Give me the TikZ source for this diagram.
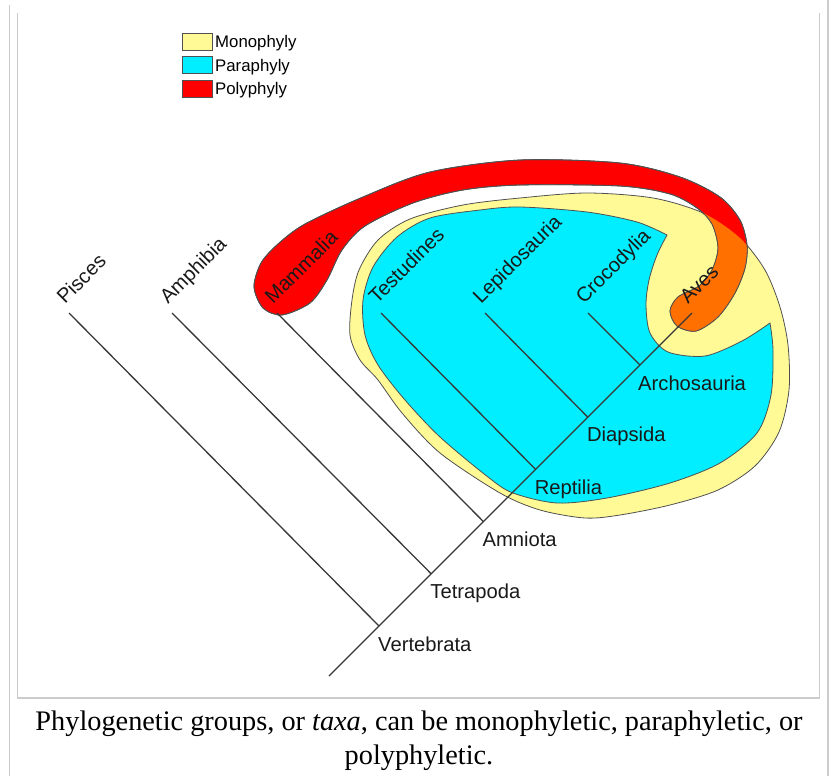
\documentclass[tikz,border=0pt]{standalone}
\usepackage{fontspec}
\setmainfont{Liberation Sans}
\newfontfamily\capfont{Liberation Serif}
\definecolor{mono}{RGB}{255,250,150}
\definecolor{para}{RGB}{0,238,255}
\definecolor{poly}{RGB}{255,0,0}
\definecolor{overlap}{RGB}{255,112,0}
\definecolor{treec}{RGB}{55,55,55}
\definecolor{framec}{RGB}{204,204,204}
\definecolor{edgec}{RGB}{80,80,80}
\tikzset{
 branch/.style={draw=treec, line width=1.3pt},
 blob/.style={draw=edgec, line width=0.8pt},
 lab/.style={font=\fontsize{20.2}{23}\selectfont, inner sep=0pt, anchor=base west, text=black!90},
 tiplab/.style={lab, rotate=45},
 legbox/.style={draw=edgec, line width=0.8pt, minimum width=30pt, minimum height=17pt, inner sep=0pt},
 legtext/.style={font=\fontsize{16.8}{19}\selectfont, inner sep=0pt, anchor=base west},
 framel/.style={draw=framec, line width=1.5pt},
 captext/.style={font=\capfont\fontsize{28.3}{34}\selectfont, inner sep=0pt, anchor=base}
}
\newcommand\yellowpath{plot[smooth cycle] coordinates {(350,335) (352,300) (359,270) (378,240) (410,219) (463,205) (520,198) (587,193) (653,198) (703,213) (740,238) (765,270) (780,307) (788,345) (789,390) (779,432) (755,466) (718,490) (670,505) (620,515) (585,518) (540,510) (500,493) (440,453) (402,413) (378,380) (360,360)}}
\newcommand\cyanpath{plot[smooth] coordinates {(770,323) (773,350) (771,395) (757,433) (720,463) (670,483) (607,498) (557,503) (513,493) (488,477) (440,437) (405,400) (378,365) (365,335) (363,300) (373,267) (397,237) (430,218) (480,210) (520,207) (587,212) (637,222) (667,235)} -- plot[smooth] coordinates {(667,235) (657,255) (649,280) (646,305) (650,333) (668,352) (705,356) (742,341) (770,323)} -- cycle}
\newcommand\bandpath{plot[smooth cycle] coordinates {(254,287) (261,263) (278,244) (305,224) (363,197) (430,172) (520,160) (620,163) (680,177) (720,197) (740,220) (747,245) (745,268) (735,293) (718,317) (696,331) (677,326) (670,311) (678,297) (699,286) (712,270) (718,248) (712,224) (697,208) (670,194) (620,186) (520,185) (463,190) (413,203) (365,226) (342,250) (327,280) (310,303) (282,315) (263,308)}}
\begin{document}
\begin{tikzpicture}[x=1pt,y=-1pt]
\useasboundingbox (0,0) rectangle (830,776);
% frame
\draw[framel] (9.5,5) -- (9.5,776);
\draw[framel] (828,0) -- (828,776);
\draw[framel] (17.5,13) -- (17.5,698) -- (819.5,698) -- (819.5,13);
% legend
\node[legbox, fill=mono] (kmono) at (197,41.5) {};
\node[legbox, fill=para] (kpara) at (197,65) {};
\node[legbox, fill=poly] (kpoly) at (197,88.5) {};
\node[legtext] (tmono) at (215,48) {Monophyly};
\node[legtext] (tpara) at (215,71.5) {Paraphyly};
\node[legtext] (tpoly) at (215,95) {Polyphyly};
% groups
\path[blob, fill=mono] \yellowpath;
\path[blob, fill=para] \cyanpath;
\path[blob, fill=poly] \bandpath;
\begin{scope}
 \clip \yellowpath;
 \fill[overlap] \bandpath;
\end{scope}
\path[blob] \bandpath;
% tree
\coordinate (root) at (329,676);
\coordinate (vert) at (379,626);
\coordinate (tetra) at (431.2,573.8);
\coordinate (amnio) at (483.4,521.6);
\coordinate (rept) at (535.6,469.4);
\coordinate (diap) at (587.8,417.2);
\coordinate (arch) at (640,365);
\coordinate (aves) at (692,313);
\coordinate (pisc) at (69,313);
\coordinate (amph) at (172,313);
\coordinate (mamm) at (277,313);
\coordinate (test) at (381,313);
\coordinate (lepi) at (485,313);
\coordinate (croc) at (588,313);
\draw[branch] (root) -- (aves);
\draw[branch] (vert) -- (pisc);
\draw[branch] (tetra) -- (amph);
\draw[branch] (amnio) -- (mamm);
\draw[branch] (rept) -- (test);
\draw[branch] (diap) -- (lepi);
\draw[branch] (arch) -- (croc);
% tip labels
\node[tiplab] (lpisc) at ([shift={(-4,-8)}]pisc) {Pisces};
\node[tiplab] (lamph) at ([shift={(-4,-8)}]amph) {Amphibia};
\node[tiplab] (lmamm) at ([shift={(-4,-8)}]mamm) {Mammalia};
\node[tiplab] (ltest) at ([shift={(-4,-8)}]test) {Testudines};
\node[tiplab] (llepi) at ([shift={(-4,-8)}]lepi) {Lepidosauria};
\node[tiplab] (lcroc) at ([shift={(-4,-8)}]croc) {Crocodylia};
\node[tiplab] (laves) at ([shift={(-4,-8)}]aves) {Aves};
% clade labels
\node[lab] (lvert) at ([shift={(-1,25)}]vert) {Vertebrata};
\node[lab] (ltetra) at ([shift={(-1,25)}]tetra) {Tetrapoda};
\node[lab] (lamnio) at ([shift={(-1,25)}]amnio) {Amniota};
\node[lab] (lrept) at ([shift={(-1,25)}]rept) {Reptilia};
\node[lab] (ldiap) at ([shift={(-1,24)}]diap) {Diapsida};
\node[lab] (larch) at ([shift={(-2,25)}]arch) {Archosauria};
% caption
\node[captext] (cap1) at (419,730) {Phylogenetic groups, or \textit{taxa}, can be monophyletic, paraphyletic, or};
\node[captext] (cap2) at (419,764) {polyphyletic.};
\end{tikzpicture}
\end{document}
